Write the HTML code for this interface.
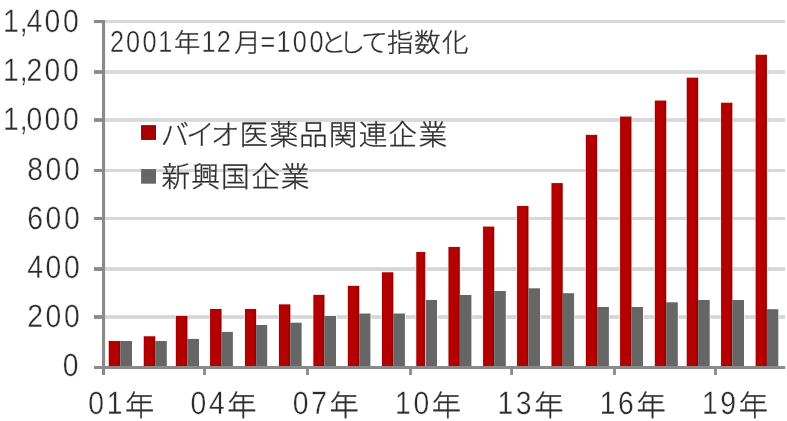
<!DOCTYPE html>
<html lang="ja">
<head>
<meta charset="utf-8">
<title>バイオ医薬品関連企業と新興国企業の推移</title>
<style>
html,body{margin:0;padding:0;background:#fff;}
body{width:787px;height:421px;overflow:hidden;}
.chart{width:787px;height:421px;background:#fff;}
svg{display:block;}
text{font-family:"Liberation Sans", "Noto Sans CJK JP", sans-serif;text-rendering:geometricPrecision;}
.c{fill:#2e2e31;font-weight:300;stroke:#2e2e31;stroke-width:0.3px;}
.d{fill:#2c2c2f;font-weight:400;stroke:#fff;stroke-width:0.35px;}
</style>
</head>
<body>
<div class="chart">
<svg width="787" height="421" viewBox="0 0 787 421" role="img" aria-label="2001年12月=100として指数化">
<rect x="0" y="0" width="787" height="421" fill="#ffffff"/>
<defs><linearGradient id="rg" x1="0" y1="0" x2="1" y2="0"><stop offset="0" stop-color="#9a0000"/><stop offset="0.14" stop-color="#b40000"/><stop offset="0.7" stop-color="#b60000"/><stop offset="0.86" stop-color="#a60000"/><stop offset="1" stop-color="#8e0000"/></linearGradient></defs>
<g id="gridlines" fill="#d7d7d7">
<rect x="105" y="20" width="680" height="3.1"/>
<rect x="105" y="70.1" width="680" height="3.8"/>
<rect x="105" y="118.1" width="680" height="3.8"/>
<rect x="105" y="169" width="680" height="3"/>
<rect x="105" y="217" width="680" height="3"/>
<rect x="105" y="267.1" width="680" height="3.9"/>
<rect x="105" y="315.1" width="680" height="3.8"/>
</g>
<g id="bar-halo" fill="#ffffff" fill-opacity="0.7">
<rect x="107.9" y="340.4" width="13.4" height="26" fill="#ffdada"/>
<rect x="120.4" y="340.2" width="12.5" height="26"/>
<rect x="142.9" y="335.7" width="13.2" height="30.7" fill="#ffdada"/>
<rect x="155.2" y="340.2" width="12.5" height="26"/>
<rect x="175" y="315.4" width="13.3" height="51" fill="#ffdada"/>
<rect x="187.4" y="338.1" width="12.5" height="28.1"/>
<rect x="209.2" y="308.4" width="13.2" height="58" fill="#ffdada"/>
<rect x="221.5" y="331.1" width="12.3" height="35.1"/>
<rect x="244.1" y="308.4" width="12.9" height="58" fill="#ffdada"/>
<rect x="256.1" y="324.2" width="12" height="42"/>
<rect x="278.1" y="303.8" width="13.1" height="62.6" fill="#ffdada"/>
<rect x="290.3" y="321.9" width="12.2" height="44.3"/>
<rect x="312.5" y="294.3" width="12.8" height="72.1" fill="#ffdada"/>
<rect x="324.4" y="315.2" width="12.5" height="51"/>
<rect x="347" y="285.3" width="13.1" height="81.1" fill="#ffdada"/>
<rect x="359.2" y="312.7" width="12.1" height="53.5"/>
<rect x="381.1" y="271.7" width="13.1" height="94.7" fill="#ffdada"/>
<rect x="393.3" y="312.7" width="12.5" height="53.5"/>
<rect x="415.4" y="251.4" width="10.8" height="115" fill="#ffdada"/>
<rect x="425.3" y="299.2" width="12.6" height="67"/>
<rect x="447.6" y="246.4" width="13.1" height="120" fill="#ffdada"/>
<rect x="459.8" y="294.2" width="12.5" height="72"/>
<rect x="482.2" y="226" width="12.9" height="140.4" fill="#ffdada"/>
<rect x="494.2" y="290.2" width="12.5" height="76"/>
<rect x="516.2" y="205.4" width="13.1" height="161" fill="#ffdada"/>
<rect x="528.4" y="287.5" width="12.5" height="78.7"/>
<rect x="550.6" y="182.5" width="13" height="183.9" fill="#ffdada"/>
<rect x="562.7" y="292.4" width="12.3" height="73.8"/>
<rect x="585" y="134.3" width="13" height="232.1" fill="#ffdada"/>
<rect x="597.1" y="306.2" width="12.7" height="60"/>
<rect x="619.2" y="116" width="13.1" height="250.4" fill="#ffdada"/>
<rect x="631.4" y="306.2" width="12.5" height="60"/>
<rect x="654" y="100" width="13.1" height="266.4" fill="#ffdada"/>
<rect x="666.2" y="301.5" width="12.5" height="64.7"/>
<rect x="685.9" y="77.1" width="13.1" height="289.3" fill="#ffdada"/>
<rect x="698.1" y="299.2" width="12.5" height="67"/>
<rect x="720.2" y="102.2" width="13" height="264.2" fill="#ffdada"/>
<rect x="732.3" y="299.2" width="12.6" height="67"/>
<rect x="754.8" y="54.2" width="13" height="312.2" fill="#ffdada"/>
<rect x="766.9" y="308.4" width="12.3" height="57.8"/>
</g>
<g id="series-bio" fill="url(#rg)">
<rect x="108.8" y="341" width="11.6" height="26"/>
<rect x="143.8" y="336.3" width="11.4" height="30.7"/>
<rect x="175.9" y="316" width="11.5" height="51"/>
<rect x="210.1" y="309" width="11.4" height="58"/>
<rect x="245" y="309" width="11.1" height="58"/>
<rect x="279" y="304.4" width="11.3" height="62.6"/>
<rect x="313.4" y="294.9" width="11" height="72.1"/>
<rect x="347.9" y="285.9" width="11.3" height="81.1"/>
<rect x="382" y="272.3" width="11.3" height="94.7"/>
<rect x="416.3" y="252" width="9" height="115"/>
<rect x="448.5" y="247" width="11.3" height="120"/>
<rect x="483.1" y="226.6" width="11.1" height="140.4"/>
<rect x="517.1" y="206" width="11.3" height="161"/>
<rect x="551.5" y="183.1" width="11.2" height="183.9"/>
<rect x="585.9" y="134.9" width="11.2" height="232.1"/>
<rect x="620.1" y="116.6" width="11.3" height="250.4"/>
<rect x="654.9" y="100.6" width="11.3" height="266.4"/>
<rect x="686.8" y="77.7" width="11.3" height="289.3"/>
<rect x="721.1" y="102.8" width="11.2" height="264.2"/>
<rect x="755.7" y="54.8" width="11.2" height="312.2"/>
<rect x="425.3" y="252" width="0.9" height="115" fill="#ffc2c2"/>
</g>
<g id="series-em" fill="#666666">
<rect x="120.4" y="341" width="11.6" height="26"/>
<rect x="155.2" y="341" width="11.6" height="26"/>
<rect x="187.4" y="338.9" width="11.6" height="28.1"/>
<rect x="221.5" y="331.9" width="11.4" height="35.1"/>
<rect x="256.1" y="325" width="11.1" height="42"/>
<rect x="290.3" y="322.7" width="11.3" height="44.3"/>
<rect x="324.4" y="316" width="11.6" height="51"/>
<rect x="359.2" y="313.5" width="11.2" height="53.5"/>
<rect x="393.3" y="313.5" width="11.6" height="53.5"/>
<rect x="426" y="300" width="11" height="67"/>
<rect x="459.8" y="295" width="11.6" height="72"/>
<rect x="494.2" y="291" width="11.6" height="76"/>
<rect x="528.4" y="288.3" width="11.6" height="78.7"/>
<rect x="562.7" y="293.2" width="11.4" height="73.8"/>
<rect x="597.1" y="307" width="11.8" height="60"/>
<rect x="631.4" y="307" width="11.6" height="60"/>
<rect x="666.2" y="302.3" width="11.6" height="64.7"/>
<rect x="698.1" y="300" width="11.6" height="67"/>
<rect x="732.3" y="300" width="11.7" height="67"/>
<rect x="766.9" y="309.2" width="11.4" height="57.8"/>
</g>
<g id="axes" fill="#8a8a8a">
<rect x="102" y="20" width="3.1" height="355"/>
<rect x="94" y="366" width="691.2" height="3"/>
<rect x="94" y="20" width="9" height="3.1"/>
<rect x="94" y="70.1" width="9" height="3.8"/>
<rect x="94" y="118.1" width="9" height="3.8"/>
<rect x="94" y="169" width="9" height="3"/>
<rect x="94" y="217" width="9" height="3"/>
<rect x="94" y="267.1" width="9" height="3.9"/>
<rect x="94" y="315.1" width="9" height="3.8"/>
<rect x="203.1" y="368" width="2.8" height="7"/>
<rect x="306.1" y="368" width="2.8" height="7"/>
<rect x="409.1" y="368" width="2.8" height="7"/>
<rect x="510.2" y="368" width="2.8" height="7"/>
<rect x="613.1" y="368" width="2.8" height="7"/>
<rect x="714.1" y="368" width="2.8" height="7"/>
</g>
<g id="legend">
<rect x="141.6" y="125.7" width="13.9" height="13.7" fill="#a60000" stroke="#900000" stroke-width="1"/>
<rect x="141.1" y="169.1" width="14.9" height="14.6" fill="#666666"/>
<text class="c" font-size="28.7" x="160.54 185.89 210.85 239.38 269.45 299.06 328.73 358.77 388.33 418.55" y="145">バイオ医薬品関連企業</text>
<text class="c" font-size="28.7" x="161.59 191.18 221 251.13 280.7" y="187">新興国企業</text>
</g>
<g id="note">
<text class="d" font-size="30.4" transform="scale(0.83,1)" x="132.51 151.79 171.67 190.58" y="52">2001</text>
<text class="c" font-size="26.4" x="173.9" y="52">年</text>
<text class="d" font-size="30.4" transform="scale(0.83,1)" x="242.87 261.12" y="52">12</text>
<text class="c" font-size="26.4" x="234.3" y="52">月</text>
<text class="d" font-size="30.4" transform="scale(0.83,1)" x="314 333.23 352.87 372.81" y="52">=100</text>
<text class="c" font-size="26.4" x="319.89 338.72 361.13 386.88 414.13 442.03" y="52">として指数化</text>
</g>
<g id="y-labels">
<text class="d" font-size="32.2" transform="scale(0.88,1)" x="3.32 22.46 30.02 50.7 71.61" y="32">1,400</text>
<text class="d" font-size="32.2" transform="scale(0.88,1)" x="3.32 22.46 30.02 50.7 71.61" y="81">1,200</text>
<text class="d" font-size="32.2" transform="scale(0.88,1)" x="3.32 22.46 30.02 50.7 71.61" y="130">1,000</text>
<text class="d" font-size="32.2" transform="scale(0.88,1)" x="31.05 51.73 72.64" y="180">800</text>
<text class="d" font-size="32.2" transform="scale(0.88,1)" x="31.05 51.73 72.64" y="229">600</text>
<text class="d" font-size="32.2" transform="scale(0.88,1)" x="31.05 51.73 72.64" y="278">400</text>
<text class="d" font-size="32.2" transform="scale(0.88,1)" x="31.05 51.73 72.64" y="327">200</text>
<text class="d" font-size="32.2" transform="scale(0.88,1)" x="71.27" y="376">0</text>
</g>
<g id="x-labels">
<text class="d" font-size="32.2" transform="scale(0.88,1)" x="100.36 121.27" y="414">01</text>
<text class="c" font-size="29.3" x="125.05" y="416">年</text>
<text class="d" font-size="32.2" transform="scale(0.88,1)" x="216.58 237.49" y="414">04</text>
<text class="c" font-size="29.3" x="227.32" y="416">年</text>
<text class="d" font-size="32.2" transform="scale(0.88,1)" x="332.8 353.7" y="414">07</text>
<text class="c" font-size="29.3" x="329.59" y="416">年</text>
<text class="d" font-size="32.2" transform="scale(0.88,1)" x="449.01 469.92" y="414">10</text>
<text class="c" font-size="29.3" x="431.86" y="416">年</text>
<text class="d" font-size="32.2" transform="scale(0.88,1)" x="565.23 586.14" y="414">13</text>
<text class="c" font-size="29.3" x="534.13" y="416">年</text>
<text class="d" font-size="32.2" transform="scale(0.88,1)" x="681.44 702.35" y="414">16</text>
<text class="c" font-size="29.3" x="636.4" y="416">年</text>
<text class="d" font-size="32.2" transform="scale(0.88,1)" x="797.66 818.57" y="414">19</text>
<text class="c" font-size="29.3" x="738.67" y="416">年</text>
</g>
</svg>
</div>
</body>
</html>
